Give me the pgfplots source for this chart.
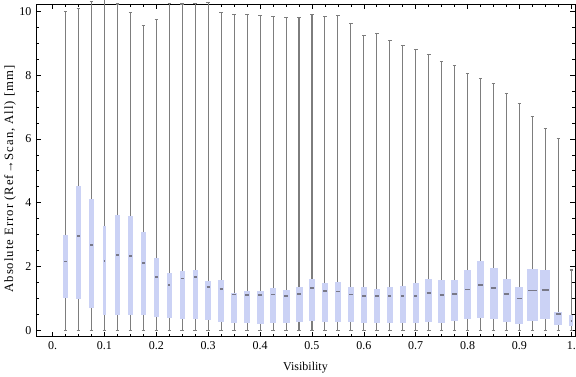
\documentclass[border=0pt]{standalone}
\usepackage{fontspec}
\setmainfont{Liberation Serif}
\usepackage{pgfplots}
\pgfplotsset{compat=1.18}
\usepgfplotslibrary{statistics}
\definecolor{boxc}{RGB}{203,210,245}
\definecolor{whc}{RGB}{125,125,125}
\definecolor{medc}{RGB}{120,120,135}
\newcommand{\bx}[7]{\addplot[draw=whc, line width=0.8pt, boxplot prepared={draw position=#1, lower whisker=#2, lower quartile=#3, median=#4, upper quartile=#5, upper whisker=#6, box extend=#7}] coordinates {};}
\begin{document}
\begin{tikzpicture}[font=\fontsize{9}{11}\selectfont]
\begin{axis}[
  scale only axis, width=404.25pt, height=249.5pt,
  xmin=-0.032, xmax=1.007, ymin=-0.2, ymax=10.23,
  clip=false,
  axis line style={line width=0.6pt},
  every tick/.style={black, line width=0.5pt},
  major tick length=3.5pt, minor tick length=2pt,
  xtick={0,0.1,0.2,0.3,0.4,0.5,0.6,0.7,0.8,0.9,1},
  xticklabels={0.,0.1,0.2,0.3,0.4,0.5,0.6,0.7,0.8,0.9,1.},
  ytick={0,2,4,6,8,10}, yticklabels={0,2,4,6,8,10},
  minor x tick num=3, minor y tick num=3,
  /pgf/number format/assume math mode=true,
  xlabel={Visibility},
  ylabel={Absolute Error (Ref→Scan, All) [mm]},
  xlabel style={at={(axis description cs:0.5,-0.094)}, anchor=center},
  ylabel style={at={(axis description cs:-0.048,0.474)}, anchor=center, font=\fontsize{9.5}{11}\selectfont\addfontfeature{LetterSpace=8}},
  boxplot/draw direction=y,
  boxplot/whisker extend=0.007,
  boxplot/every box/.style={fill=boxc, draw=none},
  boxplot/every median/.style={draw=medc, line width=1.3pt, shorten <=1pt, shorten >=1pt},
]
\bx{0.025}{0}{1.02}{2.16}{2.98}{10.00}{0.0096}
\bx{0.05}{0}{0.99}{2.95}{4.52}{10.09}{0.0096}
\bx{0.075}{0}{0.71}{2.67}{4.12}{10.31}{0.0096}
\bx{0.1}{0}{0.49}{2.18}{3.27}{10.5}{0.0075}
\bx{0.125}{0}{0.47}{2.37}{3.61}{10.23}{0.0096}
\bx{0.15}{0}{0.47}{2.32}{3.58}{9.97}{0.0096}
\bx{0.175}{0}{0.47}{2.11}{3.08}{9.56}{0.0096}
\bx{0.2}{0}{0.43}{1.66}{2.27}{9.75}{0.0096}
\bx{0.225}{0}{0.40}{1.43}{1.80}{10.25}{0.0096}
\bx{0.25}{0}{0.36}{1.62}{1.86}{10.23}{0.0102}
\bx{0.275}{0}{0.36}{1.67}{1.89}{10.25}{0.0102}
\bx{0.3}{0}{0.33}{1.36}{1.55}{10.28}{0.011}
\bx{0.325}{0}{0.26}{1.30}{1.58}{9.97}{0.0116}
\bx{0.35}{0}{0.23}{1.12}{1.17}{9.91}{0.0116}
\bx{0.375}{0}{0.23}{1.11}{1.23}{9.91}{0.0116}
\bx{0.4}{0}{0.21}{1.11}{1.23}{9.87}{0.0135}
\bx{0.425}{0}{0.23}{1.12}{1.33}{9.84}{0.0116}
\bx{0.45}{0}{0.24}{1.08}{1.26}{9.81}{0.0135}
\bx{0.475}{0}{0.27}{1.14}{1.36}{9.81}{0.0135}
\bx{0.5}{0}{0.29}{1.33}{1.61}{9.91}{0.0116}
\bx{0.525}{0}{0.26}{1.23}{1.48}{9.84}{0.0116}
\bx{0.55}{0}{0.26}{1.22}{1.51}{9.87}{0.0116}
\bx{0.575}{0}{0.26}{1.12}{1.36}{9.62}{0.0116}
\bx{0.6}{0}{0.23}{1.07}{1.36}{9.25}{0.0116}
\bx{0.625}{0}{0.23}{1.08}{1.29}{9.31}{0.0116}
\bx{0.65}{0}{0.23}{1.08}{1.36}{9.09}{0.0116}
\bx{0.675}{0}{0.23}{1.08}{1.39}{8.93}{0.0116}
\bx{0.7}{0}{0.23}{1.08}{1.48}{8.81}{0.0116}
\bx{0.725}{0}{0.26}{1.16}{1.61}{8.65}{0.0135}
\bx{0.75}{0}{0.23}{1.10}{1.58}{8.43}{0.0135}
\bx{0.775}{0}{0.29}{1.14}{1.58}{8.31}{0.0135}
\bx{0.8}{0}{0.35}{1.28}{1.89}{8.06}{0.0135}
\bx{0.825}{0}{0.40}{1.42}{2.17}{7.90}{0.0135}
\bx{0.85}{0}{0.35}{1.33}{1.95}{7.74}{0.0154}
\bx{0.875}{0}{0.26}{1.13}{1.61}{7.43}{0.0154}
\bx{0.9}{0}{0.21}{1.00}{1.36}{7.12}{0.0154}
\bx{0.925}{0}{0.29}{1.25}{1.92}{6.71}{0.0212}
\bx{0.95}{0}{0.35}{1.26}{1.89}{6.34}{0.0193}
\bx{0.975}{0}{0.17}{0.50}{0.57}{6.02}{0.0154}
\bx{1.0}{0}{0.13}{0.30}{0.48}{1.89}{0.0077}
\end{axis}
\pgfresetboundingbox
\useasboundingbox ([xshift=-27pt,yshift=-30.2pt]current axis.south west) rectangle ([xshift=0.75pt,yshift=3pt]current axis.north east);
\end{tikzpicture}
\end{document}
